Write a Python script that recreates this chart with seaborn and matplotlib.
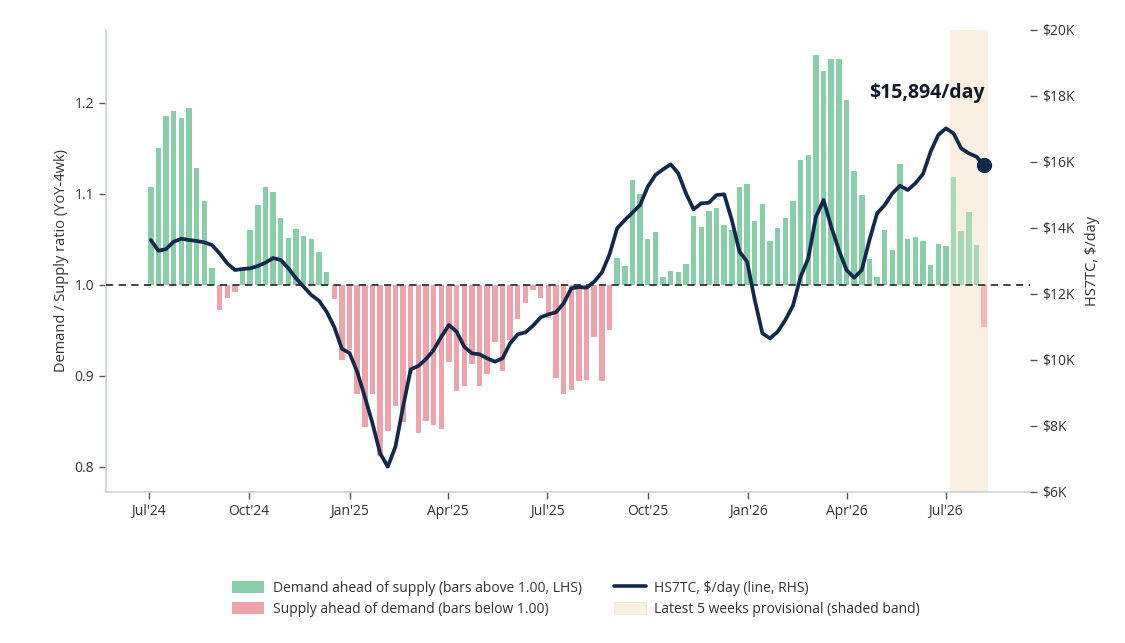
import numpy as np
import pandas as pd
import matplotlib
matplotlib.use("Agg")
import matplotlib.pyplot as plt
import matplotlib.dates as mdates
from matplotlib.patches import Patch
from matplotlib.lines import Line2D
import seaborn as sns

# ---------------- data ----------------
start_date = "2024-07-03"
n_weeks = 110
provisional_weeks = 5

ratio = [
    1.107, 1.150, 1.185, 1.191, 1.183, 1.194, 1.128, 1.092, 1.019, 0.972,
    0.986, 0.992, 1.018, 1.060, 1.088, 1.108, 1.102, 1.074, 1.052, 1.061,
    1.054, 1.050, 1.036, 1.014, 0.984, 0.918, 0.928, 0.880, 0.844, 0.880,
    0.812, 0.839, 0.867, 0.849, 0.903, 0.837, 0.850, 0.846, 0.842, 0.915,
    0.883, 0.889, 0.913, 0.889, 0.902, 0.937, 0.905, 0.940, 0.962, 0.980,
    0.994, 0.986, 0.964, 0.898, 0.880, 0.885, 0.894, 0.896, 0.943, 0.894,
    0.950, 1.030, 1.021, 1.115, 1.100, 1.050, 1.058, 1.009, 1.015, 1.014,
    1.023, 1.076, 1.064, 1.081, 1.085, 1.066, 1.060, 1.107, 1.111, 1.070,
    1.089, 1.048, 1.063, 1.074, 1.092, 1.137, 1.143, 1.253, 1.235, 1.248,
    1.248, 1.203, 1.125, 1.099, 1.028, 1.009, 1.060, 1.038, 1.133, 1.050,
    1.053, 1.048, 1.022, 1.045, 1.043, 1.118, 1.059, 1.080, 1.044, 0.954,
]

rate = [
    13636, 13311, 13363, 13585, 13676, 13636, 13606, 13566, 13484, 13232,
    12929, 12727, 12757, 12778, 12848, 12948, 13090, 13030, 12778, 12475,
    12222, 11969, 11797, 11464, 11000, 10340, 10210, 9640, 8880, 8080,
    7170, 6767, 7373, 8585, 9717, 9818, 10030, 10303, 10706, 11060,
    10858, 10403, 10202, 10172, 10050, 9949, 10050, 10505, 10778, 10838,
    11040, 11293, 11384, 11444, 11717, 12172, 12212, 12191, 12373, 12650,
    13200, 13990, 14242, 14464, 14696, 15250, 15605, 15777, 15929, 15656,
    15050, 14566, 14747, 14767, 15000, 15020, 14242, 13282, 12979, 11817,
    10808, 10656, 10858, 11212, 11650, 12525, 13080, 14342, 14848, 14040,
    13333, 12727, 12494, 12727, 13636, 14444, 14696, 15050, 15282, 15151,
    15353, 15636, 16312, 16818, 17020, 16868, 16414, 16262, 16161, 15894,
]

left_ticks = [0.8, 0.9, 1.0, 1.1, 1.2]
right_ticks = [6000, 8000, 10000, 12000, 14000, 16000, 18000, 20000]
x_ticks = ["2024-07-01", "2024-10-01", "2025-01-01", "2025-04-01", "2025-07-01",
           "2025-10-01", "2026-01-01", "2026-04-01", "2026-07-01"]
x_tick_labels = ["Jul'24", "Oct'24", "Jan'25", "Apr'25", "Jul'25",
                 "Oct'25", "Jan'26", "Apr'26", "Jul'26"]

legend_labels = [
    "Demand ahead of supply (bars above 1.00, LHS)",
    "Supply ahead of demand (bars below 1.00)",
    "HS7TC, $/day (line, RHS)",
    "Latest 5 weeks provisional (shaded band)",
]
annotation_text = "$15,894/day"

# ---------------- styling ----------------
GREEN = "#88CFA9"
RED = "#EDA3AC"
NAVY = "#13294B"
BAND = "#FAF0E2"
TXT = "#333333"
SPINE = "#C9D1DC"

sns.set_theme(style="white")
plt.rcParams["font.family"] = ["Open Sans", "DejaVu Sans"]

dates = pd.date_range(start_date, periods=n_weeks, freq="7D")
df = pd.DataFrame({"date": dates, "ratio": ratio, "rate": rate})
df["dnum"] = mdates.date2num(df["date"])
df["prov"] = np.arange(n_weeks) >= n_weeks - provisional_weeks

fig = plt.figure(figsize=(11.25, 6.43), dpi=100)
ax = fig.add_axes([106 / 1125, 1 - 492 / 643, (1030 - 106) / 1125, (492 - 30) / 643])
ax2 = ax.twinx()

# shaded provisional band
prov_df = df[df["prov"]]
ax.axvspan(prov_df["dnum"].iloc[0] - 3.5, prov_df["dnum"].iloc[-1] + 3.5,
           color=BAND, zorder=0, lw=0)

# bars from 1.0
bar_w = 5.0
for is_prov, sub in df.groupby("prov"):
    cols = [GREEN if v >= 1 else RED for v in sub["ratio"]]
    ax.bar(sub["dnum"], sub["ratio"] - 1.0, bottom=1.0, width=bar_w,
           color=cols, alpha=0.72 if is_prov else 1.0, zorder=2, lw=0)

ax.axhline(1.0, color="#333333", lw=1.3, ls=(0, (4, 3)), zorder=3)

# line on right axis
sns.lineplot(data=df, x="dnum", y="rate", ax=ax2, color=NAVY, lw=2.7, zorder=5)
ax2.plot(df["dnum"].iloc[-1], df["rate"].iloc[-1], "o", color=NAVY, ms=10, zorder=6)
ax2.text(df["dnum"].iloc[-1] + 1, 18080, annotation_text, ha="right", va="center",
         fontsize=14, fontweight="bold", color="#111827",
         family=["Open Sans", "DejaVu Sans"])

# axes limits and ticks
xmin = mdates.date2num(pd.Timestamp("2024-05-23"))
xmax = mdates.date2num(pd.Timestamp("2026-09-16"))
ax.set_xlim(xmin, xmax)
ax.set_ylim(0.7725, 1.280)
ax2.set_ylim(6000, 20000)

ax.set_xticks(mdates.date2num(pd.to_datetime(x_ticks)))
ax.set_xticklabels(x_tick_labels)
ax.set_yticks(left_ticks)
ax.set_yticklabels([f"{v:.1f}" for v in left_ticks])
ax2.set_yticks(right_ticks)
ax2.set_yticklabels([f"${int(v/1000)}K" for v in right_ticks])

ax.set_xlabel("")
ax2.set_xlabel("")
ax.set_ylabel("Demand / Supply ratio (YoY-4wk)", fontsize=10.5, color=TXT, labelpad=4)
ax2.set_ylabel("HS7TC, $/day", fontsize=10.5, color=TXT, labelpad=8)

for a in (ax, ax2):
    for s in a.spines.values():
        s.set_visible(False)
ax.spines["left"].set_visible(True)
ax.spines["bottom"].set_visible(True)
ax.spines["left"].set_color(SPINE)
ax.spines["bottom"].set_color(SPINE)
ax.spines["left"].set_linewidth(1.2)
ax.spines["bottom"].set_linewidth(1.2)

ax.tick_params(axis="both", which="both", direction="out", length=5, width=1,
               color="#555555", labelsize=10, labelcolor=TXT, left=True, bottom=True)
ax2.tick_params(axis="y", direction="out", length=5, width=1, color="#555555",
                labelsize=10, labelcolor=TXT, right=True)
ax.set_zorder(1)
ax2.set_zorder(2)
ax.patch.set_visible(False)

# legend
handles = [
    Patch(facecolor=GREEN, edgecolor="none"),
    Patch(facecolor=RED, edgecolor="none"),
    Line2D([0], [0], color=NAVY, lw=2.6),
    Patch(facecolor=BAND, edgecolor="#EFE6D8", lw=0.6),
]
fig.legend(handles, legend_labels, loc="center", bbox_to_anchor=(0.512, 0.069),
           ncol=2, frameon=False, fontsize=10, handlelength=2.3, handleheight=1.0,
           handletextpad=0.6, columnspacing=2.3, labelcolor=TXT, labelspacing=0.45)

fig.savefig("out.png", dpi=100, facecolor="white")
